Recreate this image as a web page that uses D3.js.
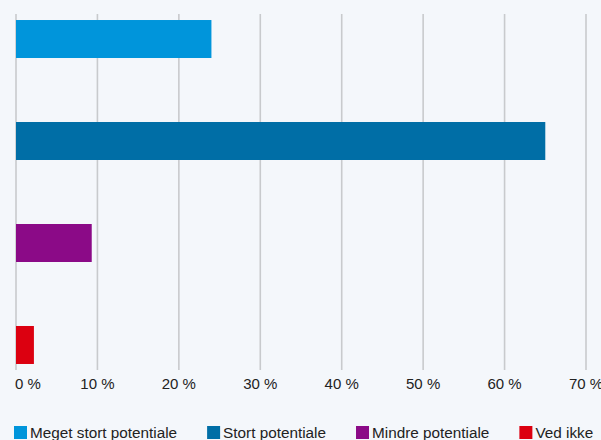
<html>
<head>
<script src="https://d3js.org/d3.v7.min.js"></script>
<style>
  body { margin: 0; background: #f4f7fb; }
  text { font-family: "Liberation Sans", Arial, sans-serif; fill: #222; }
  .grid line { stroke: #c8cacd; stroke-width: 1.6px; }
</style>
</head>
<body>
<svg id="chart" width="601" height="440"></svg>
<script>
  const categories = ["Meget stort potentiale", "Stort potentiale", "Mindre potentiale", "Ved ikke"];
  const values = [24, 65, 9.3, 2.2];
  const colors = ["#0095db", "#006ea6", "#8b0a87", "#dc0010"];
  const ticks = [0, 10, 20, 30, 40, 50, 60, 70];

  const svg = d3.select("#chart");
  svg.append("rect").attr("width", 601).attr("height", 440).attr("fill", "#f4f7fb");

  const x = d3.scaleLinear().domain([0, 70]).range([16, 586]);
  const y = d3.scaleBand().domain(categories).range([14, 370])
      .paddingInner(0.6275).paddingOuter(0.059);

  // gridlines
  svg.append("g").attr("class", "grid").selectAll("line").data(ticks)
     .join("line")
     .attr("x1", d => x(d)).attr("x2", d => x(d))
     .attr("y1", 14).attr("y2", 370);

  // tick labels (last one runs off the edge like in the original)
  svg.append("g").selectAll("text").data(ticks)
     .join("text")
     .attr("x", (d, i) => i == 0 ? x(d) - 1 : x(d))
     .attr("y", 389)
     .attr("text-anchor", (d, i) => i == 0 ? "start" : "middle")
     .style("font-size", "15px")
     .text(d => d + " %");

  // bars
  svg.append("g").selectAll("rect").data(categories)
     .join("rect")
     .attr("x", x(0))
     .attr("y", d => y(d))
     .attr("width", (d, i) => x(values[i]) - x(0))
     .attr("height", y.bandwidth())
     .attr("fill", (d, i) => colors[i]);

  // legend
  const legend = svg.append("g");
  let lx = 14;
  categories.forEach((c, i) => {
    legend.append("rect").attr("x", lx).attr("y", 426).attr("width", 13).attr("height", 13)
          .attr("fill", colors[i]);
    const t = legend.append("text").attr("x", lx + 16).attr("y", 438)
          .style("font-size", "15.3px").text(c);
    lx = lx + 16 + t.node().getComputedTextLength() + 30;
  });
</script>
</body>
</html>
